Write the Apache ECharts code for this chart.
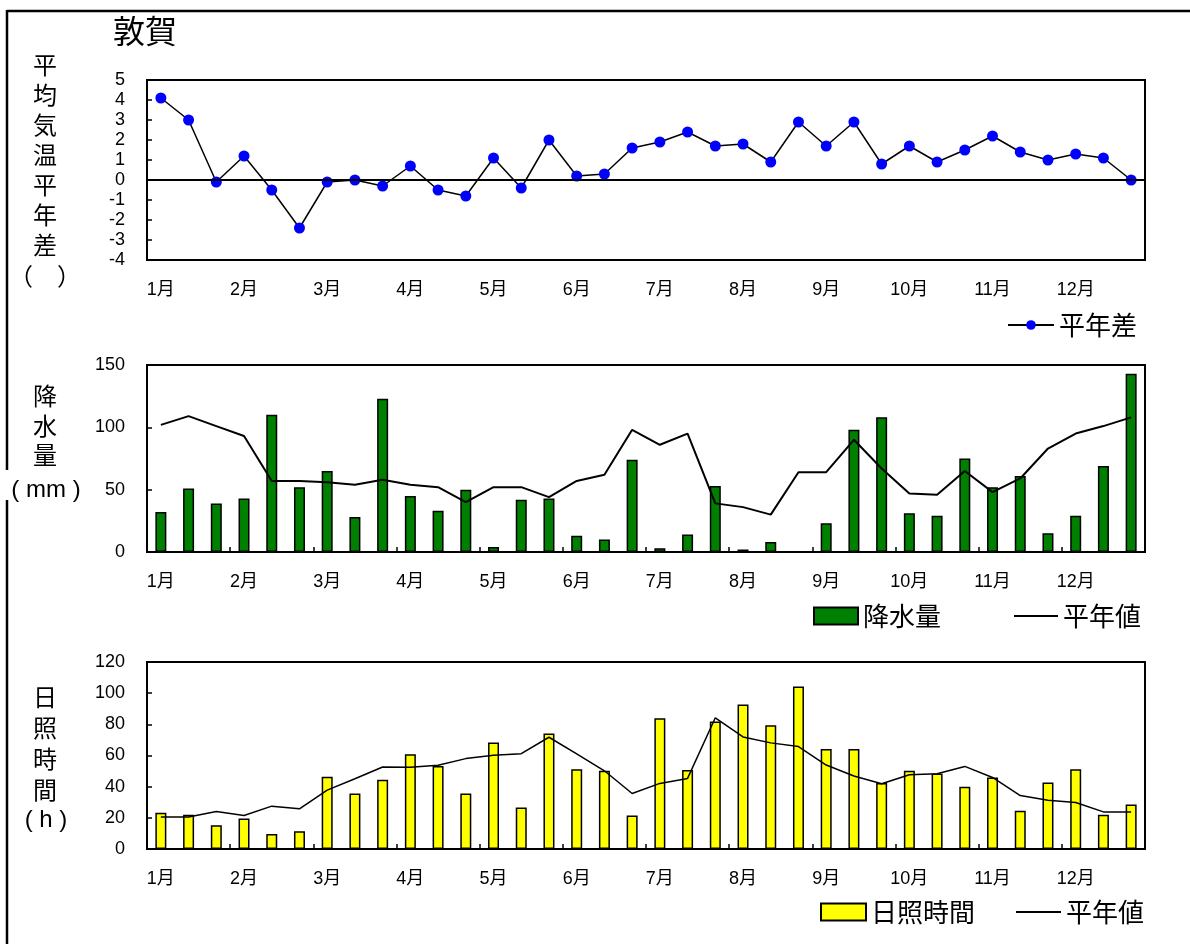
<!DOCTYPE html>
<html>
<head>
<meta charset="utf-8">
<script src="https://cdn.jsdelivr.net/npm/echarts@6/dist/echarts.min.js"></script>
<style>
html,body{margin:0;padding:0;background:#fff;}
#chart{width:1190px;height:944px;}
</style>
</head>
<body>
<div id="chart"></div>
<script>
// ---- data ----
const months = ['1月','2月','3月','4月','5月','6月','7月','8月','9月','10月','11月','12月'];
const dekads = ['上旬','中旬','下旬'];
const categories = months.flatMap(m => dekads.map(d => m + d));

const tempYTicks = [-4, 5, 1];
const precipYTicks = [0, 150, 50];
const sunYTicks = [0, 120, 20];

const tempAnomaly = [4.1,3.0,-0.1,1.2,-0.5,-2.4,-0.1,0.0,-0.3,0.7,-0.5,-0.8,1.1,-0.4,2.0,0.2,0.3,1.6,1.9,2.4,1.7,1.8,0.9,2.9,1.7,2.9,0.8,1.7,0.9,1.5,2.2,1.4,1.0,1.3,1.1,0.0];

const precip = [32,51,39,43,110,52,65,28,123,45,33,50,4,42,43,13,10,74,3,14,53,2,8,0,23,98,108,31,29,75,52,61,15,29,69,143];
const precipNormal = [102,109,101,93,57,57,56,54,58,54,52,40,52,52,44,57,62,98,86,95,39,36,30,64,64,90,67,47,46,65,48,59,83,95,101,108];

const sunshine = [23.2,21.9,15.2,19.5,9.7,11.4,46.4,35.6,44.4,60.8,53.2,35.6,68.3,26.6,74.1,51.1,50.2,21.5,83.9,50.7,81.8,92.7,79.4,104.3,64.2,64.2,42.3,50.2,48.5,39.9,45.9,24.5,42.7,51.1,21.9,28.6];
const sunshineNormal = [20.6,20.6,24.0,21.5,27.5,25.8,37.8,45.1,52.6,52.4,53.7,58.0,60.1,61.2,71.7,61.0,50.2,35.6,42.1,45.3,84.2,71.9,68.1,65.7,53.9,46.8,41.9,47.7,48.3,53.0,45.9,34.3,31.3,29.8,23.8,23.8];

// ---- styles ----
const NUM_FONT = '"Liberation Sans", Arial, "Noto Sans CJK JP", sans-serif';
const CJK_FONT = '"Noto Sans CJK JP", "Liberation Sans", sans-serif';

const grids = [
  {left:147, right:45, top:80, height:180},
  {left:147, right:45, top:365, height:187},
  {left:147, right:45, top:662, height:187}
].map(g => Object.assign({show:true, borderColor:'#000', borderWidth:2, backgroundColor:'rgba(0,0,0,0)'}, g));

function xAxis(i, ticks){
  return {
    type:'category', gridIndex:i, data:categories, boundaryGap:true,
    axisLine:{onZero:false, lineStyle:{color:'#000', width:2}},
    axisTick:{show:ticks, inside:true, interval:2, length:5, lineStyle:{color:'#000', width:1.5}},
    axisLabel:{interval:2, formatter:v => v.replace(/[上中下]旬$/, ''), fontSize:18, color:'#000', margin:21, fontFamily:NUM_FONT},
    splitLine:{show:false}
  };
}
function yAxis(i, t){
  return {
    type:'value', gridIndex:i, min:t[0], max:t[1], interval:t[2],
    axisLine:{show:true, onZero:false, lineStyle:{color:'#000', width:2}},
    axisTick:{show:true, inside:true, length:5, lineStyle:{color:'#000', width:1.5}},
    axisLabel:{fontSize:18, color:'#000', margin:22, fontFamily:NUM_FONT},
    splitLine:{show:false}
  };
}

function vtext(x, y0, step, chars, size){
  return chars.map((c, k) => ({
    type:'text', x:x, y:y0 + k*step, z:10,
    style:{text:c, fill:'#000', font:(size||24)+'px ' + CJK_FONT, textAlign:'center', textVerticalAlign:'middle'}
  }));
}

const graphic = [
  {type:'line', shape:{x1:7, y1:11, x2:1190, y2:11}, style:{stroke:'#000', lineWidth:2.5}, z:5},
  {type:'line', shape:{x1:7, y1:10, x2:7, y2:944}, style:{stroke:'#000', lineWidth:2.5}, z:5},
  {type:'rect', shape:{x:0, y:470, width:95, height:30}, style:{fill:'#fff'}, z:6},
  {type:'text', x:145, y:31, z:10, style:{text:'敦賀', fill:'#000', font:'32px ' + CJK_FONT, textAlign:'center', textVerticalAlign:'middle'}},
  ...vtext(45, 65, 30, ['平','均','気','温','平','年','差']),
  {type:'text', x:45, y:276, z:10, style:{text:'（　）', fill:'#000', font:'24px ' + CJK_FONT, textAlign:'center', textVerticalAlign:'middle'}},
  ...vtext(45, 396, 29.5, ['降','水','量']),
  {type:'text', x:46, y:490, z:10, style:{text:'( mm )', fill:'#000', font:'24px ' + NUM_FONT, textAlign:'center', textVerticalAlign:'middle'}},
  ...vtext(45, 697, 31, ['日','照','時','間']),
  {type:'text', x:46, y:820, z:10, style:{text:'( h )', fill:'#000', font:'24px ' + NUM_FONT, textAlign:'center', textVerticalAlign:'middle'}}
];

const legendText = {fontSize:26, color:'#000', fontFamily:CJK_FONT};
const normalLegendItem = {name:'平年値', itemStyle:{opacity:0}};

const option = {
  animation:false,
  backgroundColor:'#fff',
  grid:grids,
  xAxis:[xAxis(0,false), xAxis(1,true), xAxis(2,true)],
  yAxis:[yAxis(0,tempYTicks), yAxis(1,precipYTicks), yAxis(2,sunYTicks)],
  legend:[
    {data:['平年差'], left:1007, top:312, padding:0, itemWidth:46, itemHeight:12, textStyle:legendText, selectedMode:false},
    {data:[{name:'降水量', icon:'rect'}, normalLegendItem], left:813, top:603, padding:0, itemWidth:44, itemHeight:17, itemGap:72, textStyle:legendText, selectedMode:false},
    {data:[{name:'日照時間', icon:'rect'}, normalLegendItem], left:820, top:899, padding:0, itemWidth:45, itemHeight:17, itemGap:40, textStyle:legendText, selectedMode:false}
  ],
  series:[
    {
      name:'平年差', type:'line', xAxisIndex:0, yAxisIndex:0, data:tempAnomaly,
      symbol:'circle', symbolSize:11, itemStyle:{color:'#0000ff'},
      lineStyle:{color:'#000', width:1.5}, z:4,
      markLine:{silent:true, symbol:['none','none'], label:{show:false},
        lineStyle:{color:'#000', type:'solid', width:2}, data:[{yAxis:0}]}
    },
    {
      name:'降水量', type:'bar', xAxisIndex:1, yAxisIndex:1, data:precip, barWidth:11,
      itemStyle:{color:'#008000', borderColor:'#000', borderWidth:1.5}, z:2
    },
    {
      name:'平年値', type:'line', xAxisIndex:1, yAxisIndex:1, data:precipNormal,
      symbol:'none', lineStyle:{color:'#000', width:2}, itemStyle:{color:'#000'}, z:4
    },
    {
      name:'日照時間', type:'bar', xAxisIndex:2, yAxisIndex:2, data:sunshine, barWidth:11,
      itemStyle:{color:'#ffff00', borderColor:'#000', borderWidth:1.5}, z:2
    },
    {
      name:'平年値', type:'line', xAxisIndex:2, yAxisIndex:2, data:sunshineNormal,
      symbol:'none', lineStyle:{color:'#000', width:1.5}, itemStyle:{color:'#000'}, z:4
    }
  ],
  graphic:graphic
};

const chart = echarts.init(document.getElementById('chart'), null, {renderer:'canvas'});
chart.setOption(option);
</script>
</body>
</html>
